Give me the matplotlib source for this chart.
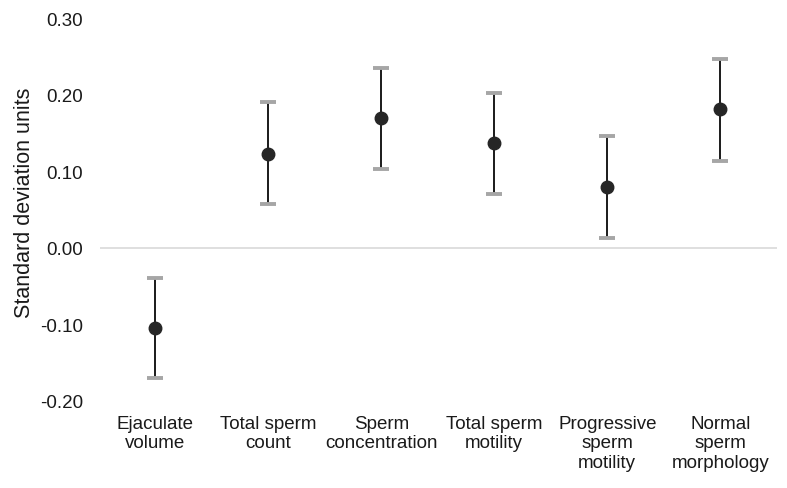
import matplotlib
matplotlib.use("Agg")
import matplotlib.pyplot as plt
import numpy as np

plt.rcParams['font.family'] = ['Liberation Sans', 'DejaVu Sans']

categories = ["Ejaculate\nvolume", "Total sperm\ncount", "Sperm\nconcentration",
              "Total sperm\nmotility", "Progressive\nsperm\nmotility", "Normal\nsperm\nmorphology"]
estimates = [-0.105, 0.123, 0.170, 0.137, 0.080, 0.181]
lower = [-0.170, 0.057, 0.103, 0.070, 0.013, 0.113]
upper = [-0.039, 0.190, 0.235, 0.202, 0.146, 0.247]
yticks = [-0.20, -0.10, 0.00, 0.10, 0.20, 0.30]

fig = plt.figure(figsize=(7.87, 4.89), dpi=100)
ax = fig.add_axes([0.127, 0.178, 0.860, 0.783])

x = np.arange(len(categories))
est = np.array(estimates)
lo = np.array(lower)
hi = np.array(upper)

ax.axhline(0, color='#d9d9d9', lw=1.2, zorder=0)
ax.vlines(x, lo, hi, color='#1a1a1a', lw=1.4, zorder=2)
ax.plot(x, lo, linestyle='none', marker='_', markersize=11, markeredgewidth=2.8,
        color='#a6a6a6', zorder=3)
ax.plot(x, hi, linestyle='none', marker='_', markersize=11, markeredgewidth=2.8,
        color='#a6a6a6', zorder=3)
ax.plot(x, est, linestyle='none', marker='o', markersize=9, color='#262626', zorder=4)

ax.set_xlim(-0.49, 5.5)
ax.set_ylim(-0.20, 0.30)
ax.set_yticks(yticks)
ax.set_yticklabels([f"{v:.2f}" for v in yticks])
ax.set_xticks(x)
ax.set_xticklabels(categories, fontsize=13.5, linespacing=1.2)
ax.tick_params(axis='both', length=0, colors='#1a1a1a')
ax.tick_params(axis='y', labelsize=13.5, pad=12)
ax.tick_params(axis='x', pad=10)
for s in ax.spines.values():
    s.set_visible(False)
ax.set_ylabel("Standard deviation units", fontsize=15.5, color='#1a1a1a', labelpad=4)
ax.yaxis.label.set_y(0.52)

fig.savefig("out.png", dpi=100)
